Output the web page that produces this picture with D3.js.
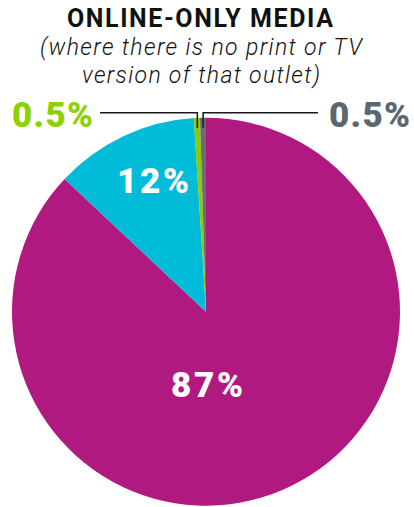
<!DOCTYPE html>
<html>
<head>
<meta charset="utf-8">
<script src="https://cdn.jsdelivr.net/npm/d3@7"></script>
<style>
  html, body { margin: 0; padding: 0; background: #fff; }
  svg { display: block; }
</style>
</head>
<body>
<svg id="chart" width="414" height="507"></svg>
<script>
// Share of online-only outlets, in clockwise order from 12 o'clock
const categories = ["main", "second", "third", "fourth"];
const values = [87, 12, 0.5, 0.5];
const labels = ["87%", "12%", "0.5%", "0.5%"];
const colors = ["#b01a80", "#00bcd9", "#8dc80a", "#6b6d70"];
const labelColors = ["#ffffff", "#ffffff", "#8dd100", "#5b6770"];

const svg = d3.select("#chart");
const cx = 206, cy = 311.7, r = 194;
const font = "Roboto, 'Open Sans', sans-serif";

// Spread letters so a text run fills the given width; the trailing
// spacing after the last glyph is compensated by nudging x.
function fit(sel, width) {
  sel.each(function () {
    const el = d3.select(this);
    const n = this.getNumberOfChars();
    const w = this.getComputedTextLength();
    if (n < 2) return;
    const s = (width - w) / (n - 1);
    el.style("letter-spacing", s + "px");
    const anchor = el.attr("text-anchor") || "start";
    const x = +el.attr("x");
    if (anchor === "middle") el.attr("x", x + s / 2);
    else if (anchor === "end") el.attr("x", x + s);
  });
  return sel;
}

// Title block
const title = svg.append("text")
  .attr("x", 200).attr("y", 27)
  .attr("text-anchor", "middle")
  .style("font-family", font)
  .style("font-weight", 700)
  .style("font-size", "25px")
  .style("fill", "#111")
  .text("ONLINE-ONLY MEDIA");
fit(title, 266);

const sub = ["(where there is no print or TV", "version of that outlet)"];
const subWidths = [322, 238];
svg.selectAll("text.sub").data(sub).join("text")
  .attr("class", "sub")
  .attr("x", 201).attr("y", (d, i) => 55 + i * 28)
  .attr("text-anchor", "middle")
  .style("font-family", font)
  .style("font-weight", 300)
  .style("font-style", "italic")
  .style("font-size", "23px")
  .style("fill", "#111")
  .text(d => d)
  .each(function (d, i) { fit(d3.select(this), subWidths[i]); });

const pie = d3.pie().sort(null).value(d => d)(values);
const arc = d3.arc().innerRadius(0).outerRadius(r);

const g = svg.append("g").attr("transform", `translate(${cx},${cy})`);
g.selectAll("path").data(pie).join("path")
  .attr("d", arc)
  .attr("fill", (d, i) => colors[i]);

// In-slice labels for the two large slices
const inner = [
  { i: 0, x: 207, y: 397 },
  { i: 1, x: 153, y: 193 }
];
svg.selectAll("text.in").data(inner).join("text")
  .attr("class", "in")
  .attr("x", d => d.x).attr("y", d => d.y)
  .attr("text-anchor", "middle")
  .style("font-family", font)
  .style("font-weight", 900)
  .style("font-size", "35px")
  .style("fill", d => labelColors[d.i])
  .text(d => labels[d.i])
  .each(function () { fit(d3.select(this), 72); });

// Leader lines and labels for the two thin slices
const lineY = 112.7;
const leaders = [
  { i: 2, end: 100, tx: 12, anchor: "start" },
  { i: 3, end: 318, tx: 410, anchor: "end" }
];
const pointArc = d3.arc().innerRadius(184).outerRadius(184);
leaders.forEach(L => {
  const p = pie[L.i];
  const [px, py] = pointArc.centroid(p);
  const x0 = cx + px, y0 = cy + py;
  svg.append("path")
    .attr("d", d3.line()([[x0, y0], [x0, lineY], [L.end, lineY]]))
    .attr("fill", "none")
    .attr("stroke", "#1a1a1a")
    .attr("stroke-width", 1.5);
  const t = svg.append("text")
    .attr("x", L.tx).attr("y", 126.7)
    .attr("text-anchor", L.anchor)
    .style("font-family", font)
    .style("font-weight", 900)
    .style("font-size", "35px")
    .style("fill", labelColors[L.i])
    .text(labels[L.i]);
  fit(t, 81);
});
</script>
</body>
</html>
